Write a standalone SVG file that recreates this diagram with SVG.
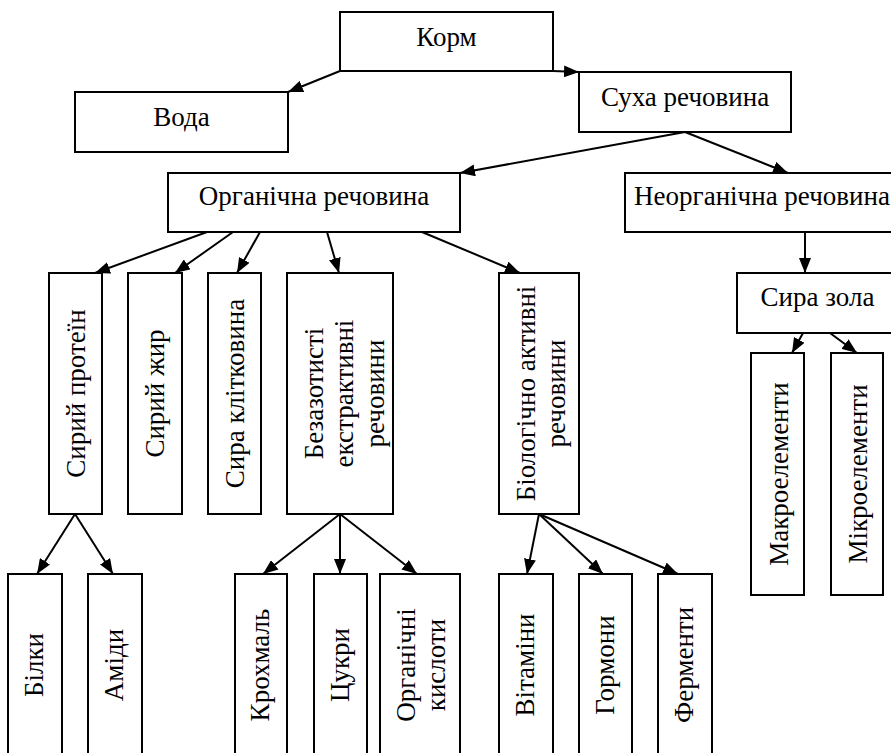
<svg xmlns="http://www.w3.org/2000/svg" width="891" height="753" viewBox="0 0 891 753">
<style>
rect{fill:#fff;stroke:#000;stroke-width:2}
text{font-family:'Liberation Serif','Times New Roman',serif;font-size:27px;fill:#000;text-anchor:middle}
.c line{stroke:#000;stroke-width:2;marker-end:url(#ah)}
</style>
<defs>
<marker id="ah" markerUnits="userSpaceOnUse" markerWidth="15" markerHeight="12" refX="15" refY="6" orient="auto">
<path d="M0,0 L15,6 L0,12 z" fill="#000"/>
</marker>
</defs>
<rect x="0" y="0" width="891" height="753" style="stroke:none"/>
<g class="c" id="connectors">
<line x1="340" y1="71" x2="288" y2="92"/>
<line x1="553" y1="71" x2="579" y2="72"/>
<line x1="685" y1="132" x2="460" y2="173"/>
<line x1="685" y1="132" x2="788" y2="173"/>
<line x1="207" y1="232" x2="95" y2="273"/>
<line x1="233" y1="232" x2="175" y2="273"/>
<line x1="260" y1="232" x2="237" y2="273"/>
<line x1="327" y1="232" x2="339" y2="273"/>
<line x1="422" y1="232" x2="520" y2="273"/>
<line x1="805" y1="232" x2="805" y2="273"/>
<line x1="803" y1="333" x2="792" y2="353"/>
<line x1="830" y1="333" x2="857" y2="353"/>
<line x1="75" y1="514" x2="37" y2="574"/>
<line x1="75" y1="514" x2="113" y2="574"/>
<line x1="340" y1="514" x2="263" y2="574"/>
<line x1="340" y1="514" x2="340" y2="574"/>
<line x1="340" y1="514" x2="417" y2="574"/>
<line x1="539" y1="514" x2="527" y2="574"/>
<line x1="539" y1="514" x2="603" y2="574"/>
<line x1="539" y1="514" x2="678" y2="574"/>
</g>
<g id="korm"><rect x="340" y="12" width="213" height="59"/><text x="446.5" y="46">Корм</text></g>
<g id="voda"><rect x="75" y="92" width="213" height="60"/><text x="181.5" y="126">Вода</text></g>
<g id="sukha"><rect x="579" y="72" width="212" height="60"/><text x="685" y="106">Суха речовина</text></g>
<g id="orhanichna"><rect x="168" y="173" width="292" height="59"/><text x="314" y="205">Органічна речовина</text></g>
<g id="neorhanichna"><rect x="625" y="173" width="272" height="59"/><text x="762" y="205">Неорганічна речовина</text></g>
<g id="syra-zola"><rect x="737" y="273" width="162" height="60"/><text x="817.5" y="306">Сира зола</text></g>
<g id="protein"><rect x="49" y="273" width="53" height="241"/><text transform="translate(75.5,393.5) rotate(-90)" y="9">Сирий протеїн</text></g>
<g id="zhyr"><rect x="128" y="273" width="54" height="241"/><text transform="translate(155,393.5) rotate(-90)" y="9">Сирий жир</text></g>
<g id="klitkovyna"><rect x="208" y="273" width="53" height="241"/><text transform="translate(234.5,393.5) rotate(-90)" y="9">Сира клітковина</text></g>
<g id="bezazotysti"><rect x="287" y="273" width="106" height="241"/><text transform="translate(340,393.5) rotate(-90)"><tspan x="0" y="-17">Безазотисті</tspan><tspan x="0" y="13">екстрактивні</tspan><tspan x="0" y="44">речовини</tspan></text></g>
<g id="biolohichno"><rect x="499" y="273" width="80" height="241"/><text transform="translate(539,393.5) rotate(-90)"><tspan x="0" y="-4">Біологічно активні</tspan><tspan x="0" y="26">речовини</tspan></text></g>
<g id="makro"><rect x="751" y="353" width="53" height="242"/><text transform="translate(777.5,474) rotate(-90)" y="10">Макроелементи</text></g>
<g id="mikro"><rect x="831" y="353" width="52" height="242"/><text transform="translate(857,474) rotate(-90)" y="10">Мікроелементи</text></g>
<g id="bilky"><rect x="8" y="574" width="54" height="185"/><text transform="translate(35,665) rotate(-90)" y="8">Білки</text></g>
<g id="amidy"><rect x="88" y="574" width="54" height="185"/><text transform="translate(115,665) rotate(-90)" y="8">Аміди</text></g>
<g id="krokhmal"><rect x="235" y="574" width="52" height="185"/><text transform="translate(261,665) rotate(-90)" y="8">Крохмаль</text></g>
<g id="tsukry"><rect x="314" y="574" width="53" height="185"/><text transform="translate(340.5,665) rotate(-90)" y="8">Цукри</text></g>
<g id="kysloty"><rect x="380" y="574" width="80" height="185"/><text transform="translate(420,665) rotate(-90)"><tspan x="0" y="-5">Органічні</tspan><tspan x="0" y="25">кислоти</tspan></text></g>
<g id="vitaminy"><rect x="499" y="574" width="54" height="185"/><text transform="translate(526,665) rotate(-90)" y="8">Вітаміни</text></g>
<g id="hormony"><rect x="579" y="574" width="53" height="185"/><text transform="translate(605.5,665) rotate(-90)" y="8">Гормони</text></g>
<g id="fermenty"><rect x="658" y="574" width="54" height="185"/><text transform="translate(685,665) rotate(-90)" y="8">Ферменти</text></g>
</svg>
